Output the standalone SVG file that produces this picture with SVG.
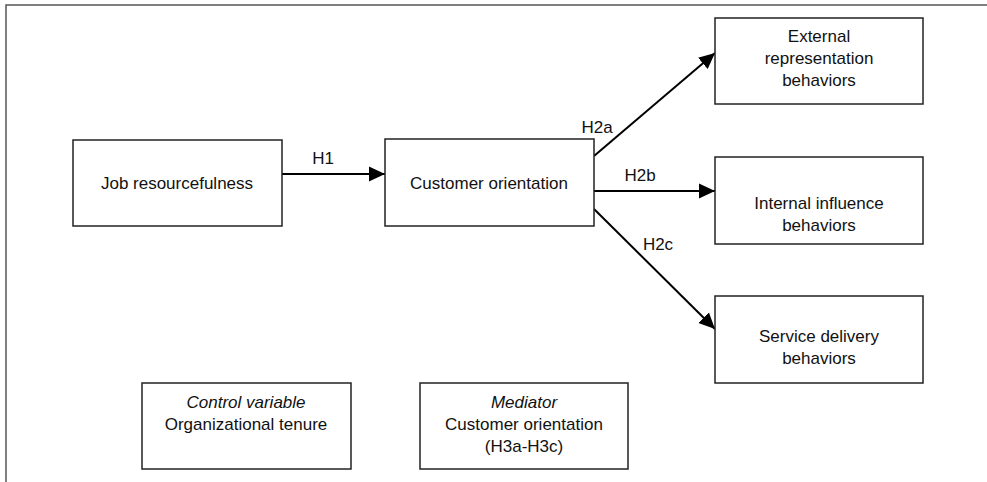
<svg xmlns="http://www.w3.org/2000/svg" width="987" height="482" viewBox="0 0 987 482">
<style>
.box{fill:#fff;stroke:#222;stroke-width:1.5}
.t{font-family:"Liberation Sans",Arial,sans-serif;font-size:17px;fill:#111;text-anchor:middle}
.i{font-style:italic}
.c{stroke:#000;stroke-width:2;fill:none}
</style>
<defs>
<marker id="ah" markerUnits="userSpaceOnUse" markerWidth="17" markerHeight="17" viewBox="0 0 17 17" refX="16" refY="8.5" orient="auto">
<path d="M0,1 L16,8.5 L0,16 Z" fill="#000"/>
</marker>
</defs>
<rect x="6" y="5" width="1000" height="500" fill="#fff" stroke="#555" stroke-width="1.5"/>
<g id="connectors">
<line class="c" x1="282" y1="174" x2="385" y2="174" marker-end="url(#ah)"/>
<line class="c" x1="594" y1="156" x2="715" y2="53" marker-end="url(#ah)"/>
<line class="c" x1="594" y1="191" x2="715" y2="191" marker-end="url(#ah)"/>
<line class="c" x1="594" y1="209" x2="715" y2="329" marker-end="url(#ah)"/>
<text class="t" x="323" y="164">H1</text>
<text class="t" x="597" y="133">H2a</text>
<text class="t" x="640" y="181">H2b</text>
<text class="t" x="658" y="250">H2c</text>
</g>
<g id="job">
<rect class="box" x="73" y="140" width="209" height="86"/>
<text class="t" x="177" y="189">Job resourcefulness</text>
</g>
<g id="customer">
<rect class="box" x="385" y="139" width="209" height="87"/>
<text class="t" x="489" y="189">Customer orientation</text>
</g>
<g id="external">
<rect class="box" x="715" y="18" width="208" height="86"/>
<text class="t" x="819" y="42">External</text>
<text class="t" x="819" y="64">representation</text>
<text class="t" x="819" y="86">behaviors</text>
</g>
<g id="internal">
<rect class="box" x="715" y="157" width="208" height="87"/>
<text class="t" x="819" y="209">Internal influence</text>
<text class="t" x="819" y="231">behaviors</text>
</g>
<g id="service">
<rect class="box" x="715" y="296" width="208" height="87"/>
<text class="t" x="819" y="342">Service delivery</text>
<text class="t" x="819" y="364">behaviors</text>
</g>
<g id="control">
<rect class="box" x="142" y="383" width="209" height="86"/>
<text class="t i" x="246" y="408">Control variable</text>
<text class="t" x="246" y="430">Organizational tenure</text>
</g>
<g id="mediator">
<rect class="box" x="420" y="383" width="208" height="86"/>
<text class="t i" x="524" y="408">Mediator</text>
<text class="t" x="524" y="430">Customer orientation</text>
<text class="t" x="524" y="452">(H3a-H3c)</text>
</g>
</svg>
